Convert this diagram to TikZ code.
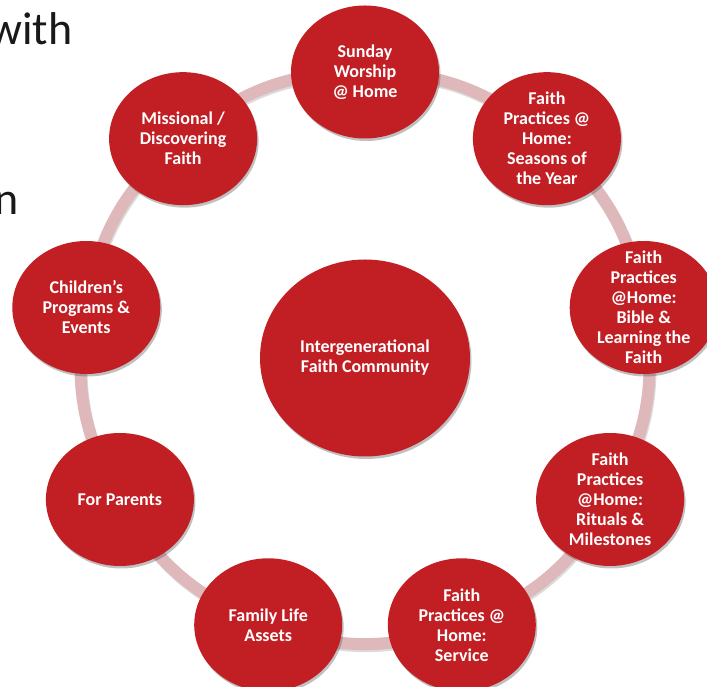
\documentclass[tikz,border=0pt]{standalone}
\usepackage{fontspec}
\setmainfont{Carlito}
\usetikzlibrary{shapes.geometric,shadows,calc}
\definecolor{bubblered}{RGB}{194,31,37}
\definecolor{ringpink}{RGB}{222,184,186}
\tikzset{
  bubble/.style={ellipse, fill=bubblered, minimum width=148pt, minimum height=133pt, inner sep=0pt,
    drop shadow={shadow xshift=1.5pt, shadow yshift=-2.5pt, opacity=0.35, fill=black!70}},
  bigbubble/.style={bubble, minimum width=210pt, minimum height=197pt},
  lbl/.style={text=white, align=center, font=\fontsize{18}{20}\selectfont\bfseries, inner sep=0pt},
  ringline/.style={draw=ringpink, line width=12pt},
  ringshadow/.style={draw=black!45, line width=12pt, opacity=0.3},
  bigtext/.style={font=\fontsize{46}{50}\selectfont, text=black!90, inner sep=0pt}
}
\begin{document}
\begin{tikzpicture}[x=1pt,y=1pt]
\useasboundingbox (0,0) rectangle (707,687);
\clip (0,0) rectangle (707,687);
\fill[white] (0,0) rectangle (707,687);
\coordinate (rc) at (365,330);
\node[bigtext, anchor=base west] (with) at (-11,642) {with};
\node[bigtext, anchor=base west] (nn) at (-6,472) {n};
% ring positions
\foreach \n/\a in {sunday/90, seasons/50, bible/10, rituals/-30, service/-70, family/-110, parents/-150, children/170, missional/130}{
  \coordinate (p\n) at ($(rc)+(\a:283 and 285)$);
}
% ring connectors (shadow then line)
\foreach \s/\t in {sunday/seasons, seasons/bible, bible/rituals, rituals/service, service/family, family/parents, parents/children, children/missional, missional/sunday}{
  \draw[ringshadow, transform canvas={xshift=1pt,yshift=-2pt}] (p\s) to[bend left=20] (p\t);
  \draw[ringline] (p\s) to[bend left=20] (p\t);
}
% nodes
\node[bubble] (sunday) at (psunday) {};
\node[bubble] (seasons) at (pseasons) {};
\node[bubble] (bible) at (pbible) {};
\node[bubble] (rituals) at (prituals) {};
\node[bubble] (service) at (pservice) {};
\node[bubble] (family) at (pfamily) {};
\node[bubble] (parents) at (pparents) {};
\node[bubble] (children) at (pchildren) {};
\node[bubble] (missional) at (pmissional) {};
\node[bigbubble] (center) at (365,329) {};
\node[lbl] at (sunday) {Sunday\\Worship\\@ Home};
\node[lbl] at (seasons) {Faith\\Practices @\\Home:\\Seasons of\\the Year};
\node[lbl] at (bible) {Faith\\Practices\\@Home:\\Bible \&\\Learning the\\Faith};
\node[lbl] at (rituals) {Faith\\Practices\\@Home:\\Rituals \&\\Milestones};
\node[lbl] at (service) {Faith\\Practices @\\Home:\\Service};
\node[lbl] at (family) {Family Life\\Assets};
\node[lbl] at (parents) {For Parents};
\node[lbl] at (children) {Children’s\\Programs \&\\Events};
\node[lbl] at (missional) {Missional /\\Discovering\\Faith};
\node[lbl] at (center) {Intergenerational\\Faith Community};
\end{tikzpicture}
\end{document}
